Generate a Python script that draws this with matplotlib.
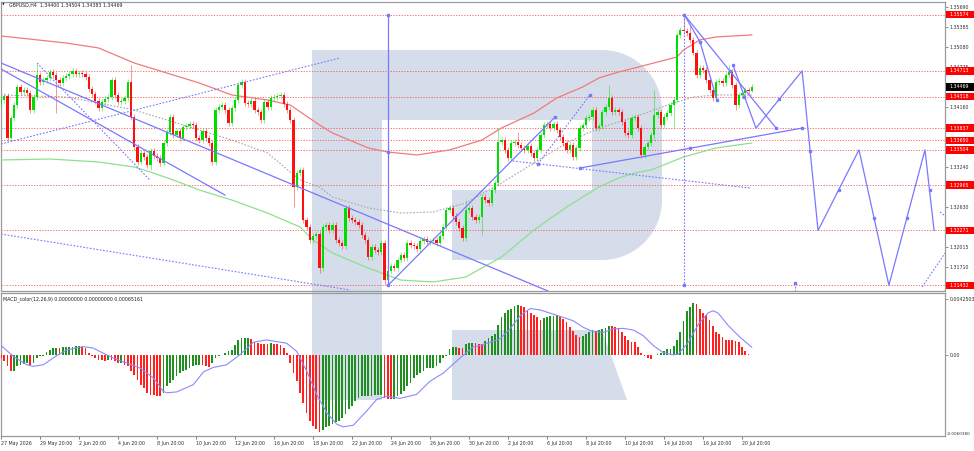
import matplotlib
matplotlib.use("Agg")
import matplotlib.pyplot as plt
import matplotlib.transforms as mtrans
from matplotlib.patches import Rectangle, Polygon
import numpy as np

plt.rcParams['font.family'] = ['DejaVu Sans']
FS = 3.4

# ---------------- data ----------------
close = [
 1.34267,1.34328,1.33686,1.33992,1.34190,1.34466,1.34389,1.34420,1.34374,1.34114,
 1.34313,1.34650,1.34543,1.34573,1.34604,1.34695,1.34650,1.34573,1.34527,1.34604,
 1.34634,1.34665,1.34711,1.34665,1.34680,1.34665,1.34619,1.34435,1.34359,1.34252,
 1.34145,1.34236,1.34282,1.34313,1.34573,1.34344,1.34236,1.34252,1.34298,1.34543,
 1.34007,1.33548,1.33319,1.33456,1.33395,1.33273,1.33487,1.33410,1.33380,1.33303,
 1.33609,1.33777,1.34007,1.33732,1.33793,1.33686,1.33854,1.33869,1.33900,1.33885,
 1.33686,1.33655,1.33793,1.33686,1.33609,1.33319,1.34114,1.34160,1.34190,1.34114,
 1.33915,1.34145,1.34267,1.34497,1.34543,1.34221,1.34206,1.34252,1.34114,1.34083,
 1.33961,1.34236,1.34160,1.34298,1.34313,1.34328,1.34344,1.34206,1.34114,1.33961,
 1.32936,1.33150,1.33196,1.32431,1.32324,1.32125,1.32186,1.32217,1.31696,1.32324,
 1.32355,1.32278,1.32355,1.32125,1.32079,1.32033,1.32615,1.32462,1.32431,1.32401,
 1.32355,1.32202,1.32125,1.31865,1.32018,1.31972,1.31941,1.32079,1.31513,1.31651,
 1.31727,1.31696,1.31819,1.31895,1.31849,1.32079,1.32048,1.32033,1.31987,1.32110,
 1.32140,1.32094,1.32110,1.32125,1.32079,1.32186,1.32324,1.32584,1.32615,1.32492,
 1.32401,1.32309,1.32156,1.32584,1.32615,1.32477,1.32431,1.32477,1.32783,1.32737,
 1.32691,1.32890,1.32997,1.33624,1.33655,1.33502,1.33380,1.33609,1.33624,1.33579,
 1.33533,1.33502,1.33563,1.33456,1.33380,1.33502,1.33732,1.33885,1.33900,1.33839,
 1.33900,1.33808,1.33701,1.33609,1.33502,1.33579,1.33395,1.33533,1.33839,1.33885,
 1.33992,1.34007,1.34114,1.33839,1.33869,1.34083,1.34160,1.34298,1.34083,1.34114,
 1.34083,1.33931,1.33762,1.33732,1.33992,1.34007,1.33839,1.33426,1.33548,1.33609,
 1.33732,1.34038,1.34083,1.33885,1.34007,1.34068,1.34190,1.34267,1.35262,1.35338,
 1.35323,1.35292,1.35185,1.34988,1.34650,1.34757,1.34726,1.34573,1.34420,1.34298,
 1.34543,1.34558,1.34527,1.34650,1.34695,1.34497,1.34190,1.34344,1.34374,1.34420,
 1.34400,1.34469]
first_open = 1.34206
high_marks = {11: 1.34833, 40: 1.34803, 143: 1.32737, 153: 1.33839, 159: 1.33777,
              187: 1.34497, 201: 1.34420, 210: 1.35574, 212: 1.35414, 224: 1.34803,
              231: 1.34504}
low_marks = {17: 1.34068, 46: 1.33196, 90: 1.32630, 98: 1.31620, 118: 1.31432,
             148: 1.32202, 201: 1.33655, 207: 1.33839, 226: 1.34114, 231: 1.34383}
wick = 0.0004

red_ma_x = [0,20,30,41,51,61,71,82,89,98,102,113,119,128,138,148,154,164,171,179,184,190,195,208,210,215,220,231]
red_ma_p = [1.35246,1.35139,1.35063,1.34833,1.34680,1.34527,1.34344,1.34267,1.34190,1.33885,
            1.33762,1.33533,1.33471,1.33426,1.33502,1.33655,1.33839,1.34068,1.34298,1.34466,
            1.34604,1.34695,1.34757,1.34925,1.35032,1.35185,1.35231,1.35262]
green_ma_x = [0,15,30,41,46,53,61,71,82,92,96,102,113,123,133,143,154,164,174,184,190,195,200,210,220,231]
green_ma_p = [1.33349,1.33364,1.33319,1.33242,1.33165,1.33043,1.32890,1.32737,1.32538,1.32324,
              1.32125,1.31926,1.31696,1.31513,1.31483,1.31559,1.31865,1.32278,1.32630,1.32936,
              1.33074,1.33150,1.33196,1.33395,1.33533,1.33609]
gray_ma_x = [0,20,30,41,51,61,71,82,92,98,102,113,123,133,143,154,164,174,184,190,195,205,213,220,231]
gray_ma_p = [1.34344,1.34313,1.34221,1.34114,1.33961,1.33808,1.33655,1.33456,1.33043,1.32936,
             1.32783,1.32615,1.32538,1.32553,1.32691,1.32997,1.33303,1.33609,1.33839,1.33931,
             1.34007,1.34190,1.34313,1.34344,1.34344]

level_prices = [1.35574, 1.34713, 1.34318, 1.33837, 1.33650, 1.33504, 1.32965, 1.32271, 1.31432]
level_labels = ['1.35574','1.34713','1.34318','1.33837','1.33650','1.33504','1.32965','1.32271','1.31432']
last_price = 1.34469
price_ticks = [1.35690, 1.35385, 1.35080, 1.34775, 1.34160, 1.33240, 1.32630, 1.32015, 1.31710]
price_tick_labels = ['1.35690','1.35385','1.35080','1.34775','1.34160','1.33240','1.32630','1.32015','1.31710']

time_tick_bars = [0,12,24,36,48,60,72,84,96,108,120,132,144,156,168,180,192,204,216,228]
time_tick_labels = ['27 May 2026','29 May 20:00','2 Jun 20:00','4 Jun 20:00','8 Jun 20:00',
                    '10 Jun 20:00','12 Jun 20:00','16 Jun 20:00','18 Jun 20:00','22 Jun 20:00',
                    '24 Jun 20:00','26 Jun 20:00','30 Jun 20:00','2 Jul 20:00','6 Jul 20:00',
                    '8 Jul 20:00','10 Jul 20:00','14 Jul 20:00','16 Jul 20:00','20 Jul 20:00']

macd_e4 = [
 -2.0,-4.5,-8.2,-11.9,-11.4,-8.2,-7.0,-6.5,-5.7,-7.0,
 -5.7,-2.0,-0.5,-0.2,2.5,4.2,5.5,5.7,5.5,6.0,
 6.2,6.5,6.7,6.8,6.9,6.7,5.5,1.7,-0.7,-2.0,
 -3.2,-3.5,-4.5,-3.2,-3.5,-4.5,-5.7,-5.5,-7.0,-8.2,
 -12.0,-15.0,-18.2,-21.9,-24.4,-28.1,-29.4,-29.8,-30.6,-30.8,
 -28.4,-23.1,-20.6,-18.2,-15.7,-13.2,-11.9,-10.7,-9.5,-8.2,
 -7.5,-7.3,-7.5,-8.2,-8.7,-5.7,-2.0,-0.2,0.5,2.2,
 3.0,4.2,7.9,11.7,12.9,13.0,13.4,12.2,10.5,9.2,
 8.5,8.4,8.3,9.2,9.0,8.8,7.9,5.5,1.7,-5.7,
 -13.2,-19.4,-28.1,-35.6,-43.0,-49.3,-53.0,-55.5,-57.7,-56.0,
 -54.2,-52.9,-51.7,-50.4,-49.2,-46.7,-44.2,-40.5,-38.0,-34.3,
 -31.8,-30.6,-30.4,-30.3,-30.2,-30.1,-30.0,-30.0,-31.8,-33.0,
 -33.1,-32.8,-30.6,-28.8,-26.9,-23.1,-20.6,-16.9,-14.4,-13.2,
 -11.4,-9.5,-9.4,-9.3,-8.2,-5.7,-2.0,-0.7,4.7,6.0,
 6.2,5.5,5.4,8.5,9.2,9.3,9.2,
 8.7,8.7,11.2,12.9,14.9,16.2,22.9,29.1,32.3,34.3,35.3,37.3,37.8,
 37.3,36.1,34.3,31.8,30.6,28.6,26.9,
 27.9,29.3,29.8,29.9,30.3,
 29.3,27.4,24.9,21.1,18.7,15.4,13.7,
 14.9,16.2,17.4,19.1,
 18.7,
 19.4,19.9,20.4,22.4,
 21.9,21.1,20.4,17.9,14.4,11.9,10.4,9.9,6.2,2.0,-0.5,-2.0,-2.5,
 0.5,1.0,2.0,3.0,4.5,4.6,7.0,12.0,17.4,26.1,33.6,36.8,39.3,
 38.5,34.8,31.8,30.3,26.9,22.4,17.4,16.2,13.7,11.9,11.7,11.5,11.2,9.9,6.2,3.7,1.2,0.5]
signal_x = [0,3.8,7.9,9.9,13,17.1,20.2,25.3,28.4,31.5,34.6,38.7,42.8,46.9,49.9,51,54.1,59.2,62.3,65.3,
            69.4,73.5,77.6,81.7,87.9,91,94.1,97.1,100.2,103.3,105.3,108.4,112.5,115.6,118.7,122.8,
            127.9,132,136.1,141.2,145.3,147.4,150.5,153.5,156.6,159.7,162.8,165.8,169.9,173,176.1,
            179.2,182.2,185.3,188.4,191.5,194.6,197.6,200.7,203.8,206.9,208.4,211.5,214.6,217.7,
            219.2,220.7,223.8,227.4,231]
signal_e4 = [7.5,-0.7,-7.0,-8.2,-7.0,-0.2,4.2,6.7,5.5,1.7,-2.0,-5.7,-9.5,-16.9,-26.9,-28.1,-27.4,-21.9,
             -12.4,-9.0,-7.0,0.5,9.9,11.7,9.2,3.0,-11.9,-29.3,-43.0,-51.7,-53.7,-52.5,-41.8,-33.1,
             -30.6,-32.3,-29.3,-19.4,-13.2,-2.0,6.5,7.5,9.9,12.4,19.9,29.8,35.3,34.3,31.1,28.6,26.1,
             21.1,17.9,17.4,19.9,20.4,19.1,14.9,7.5,2.0,0.5,1.0,9.9,23.6,32.3,33.6,31.8,22.4,13.7,6.2]

# analyst drawings (bar index, price)
blue_solid = [
    [(0, 1.34833), (168.3, 1.31345)],
    [(0, 1.34741), (68.9, 1.32813)],
    [(119.1, 1.35574), (119.1, 1.31432)],
    [(119.1, 1.31432), (170.5, 1.34007)],
    [(178.2, 1.33227), (246.5, 1.33837)],
    [(210.2, 1.35574), (238.5, 1.33837)],
    [(210.2, 1.35574), (215.1, 1.35154), (220.3, 1.34267)],
    [(225.2, 1.34803), (232.3, 1.33837), (246.5, 1.34713), (251.4, 1.32271),
     (264.0, 1.33504), (273.2, 1.31432), (284.3, 1.33504), (287.1, 1.32271)],
]
blue_dotted = [
    [(11.1, 1.34833), (45.8, 1.33043)],
    [(0, 1.33594), (104.3, 1.34910)],
    [(0, 1.32217), (107.4, 1.31360)],
    [(165.2, 1.33288), (181.2, 1.34344)],
    [(157.5, 1.33334), (230.5, 1.32920)],
    [(210.2, 1.35574), (210.2, 1.31432)],
    [(244.3, 1.31467), (244.3, 1.31345)],
    [(283.4, 1.31406), (290.5, 1.31926)],
    [(288.9, 1.32553), (290.5, 1.32492)],
]
blue_markers = [(119.1, 1.35574), (119.1, 1.33471), (119.1, 1.31432), (170.5, 1.34007),
                (178.2, 1.33227), (212.0, 1.33530), (246.5, 1.33837), (165.2, 1.33288),
                (181.2, 1.34344), (210.2, 1.35574), (210.2, 1.31432), (224.4, 1.34711),
                (215.1, 1.35154), (220.3, 1.34267), (225.2, 1.34803), (228.7, 1.34320),
                (238.5, 1.33837), (239.4, 1.34275), (248.9, 1.33492), (257.7, 1.32888),
                (268.6, 1.32468), (278.8, 1.32468), (285.7, 1.32888), (244.3, 1.31467)]

# ---------------- figure ----------------
fig = plt.figure(figsize=(9.74, 4.51), dpi=100)
W, H = 974, 451

bg = fig.add_axes([0, 0, 1, 1])
bg.set_xlim(0, W); bg.set_ylim(H, 0); bg.axis('off'); bg.set_zorder(0)
wm = '#d4dde9'
# watermark "R"
th1 = np.linspace(np.pi/2, 0, 20)
arc1 = [(602 + 60*np.cos(t), 110 - 60*np.sin(t)) for t in th1]
th2 = np.linspace(0, -np.pi/2, 20)
arc2 = [(602 + 60*np.cos(t), 200 - 60*np.sin(t)) for t in th2]
rpts = [(312, 50)] + arc1 + arc2 + [(452, 260), (452, 190), (592, 190), (592, 120),
        (382, 120), (382, 400), (312, 400)]
bg.add_patch(Polygon(rpts, closed=True, fc=wm, ec='none'))
bg.add_patch(Polygon([(452, 330), (602, 330), (627, 400), (452, 400)], closed=True, fc=wm, ec='none'))

bg.text(2, 5, '\u25bc', fontsize=2.6, color='#202020', va='center', ha='left')
bg.text(9, 5, 'GBPUSD,H4  1.34400 1.34504 1.34383 1.34469', fontsize=FS, color='#202020',
        va='center', ha='left')
bg.text(3, 299, 'MACD_color(12,26,9) 0.00000000 0.00000000 0.00065161', fontsize=FS,
        color='#202020', va='center', ha='left')

XMAX = 944 / 3.25
ax = fig.add_axes([1/W, (H-291)/H, 944/W, 289/H])
ax.set_zorder(1); ax.patch.set_alpha(0)
ax.set_xlim(0, XMAX)
ax.set_ylim(1.31345, 1.35766)
mx = fig.add_axes([1/W, (H-436)/H, 944/W, 143/H])
mx.set_zorder(1); mx.patch.set_alpha(0)
mx.set_xlim(0, XMAX)
mx.set_ylim(-0.00606, 0.0047)

for a in (ax, mx):
    for s in a.spines.values():
        s.set_color('#9a9a9a'); s.set_linewidth(0.9)

# levels
for p in level_prices:
    ax.axhline(p, color='#ff4a4a', lw=0.7, ls=(0, (1.2, 1.6)), alpha=0.85, zorder=2)

# moving averages
ax.plot(red_ma_x, red_ma_p, color='#f27a7a', lw=0.9, zorder=3)
ax.plot(green_ma_x, green_ma_p, color='#8ee08e', lw=0.9, zorder=3)
ax.plot(gray_ma_x, gray_ma_p, color='#a8a8a8', lw=0.8, ls=(0, (1.5, 1.5)), zorder=3)

# candles
n = len(close)
opens = [first_open] + close[:-1]
for i in range(n):
    o, c = opens[i], close[i]
    hi = high_marks.get(i, max(o, c) + wick)
    lo = low_marks.get(i, min(o, c) - wick)
    col = '#00dd00' if c >= o else '#ff1010'
    ax.vlines(i, lo, hi, color=col, lw=0.7, alpha=0.45, zorder=4)
    h = abs(c - o)
    if h < 0.00005:
        h = 0.00005
    ax.add_patch(Rectangle((i - 0.32, min(o, c)), 0.64, h, fc=col, ec='none', zorder=5))

# drawings
bl = '#7878ff'
for seg in blue_solid:
    xs, ys = zip(*seg)
    ax.plot(xs, ys, color=bl, lw=0.9, zorder=6, clip_on=True)
for seg in blue_dotted:
    xs, ys = zip(*seg)
    ax.plot(xs, ys, color=bl, lw=0.8, ls=(0, (1.5, 1.5)), zorder=6)
mxs, mys = zip(*blue_markers)
ax.plot(mxs, mys, 's', color=bl, ms=1.6, zorder=7, clip_on=False)

# right price axis
ax.yaxis.tick_right()
ax.set_yticks(price_ticks)
ax.set_yticklabels(price_tick_labels)
ax.tick_params(axis='y', labelsize=FS, length=2, width=0.6, color='#808080', pad=1.5,
               labelcolor='#303030')
ax.set_xticks([])
bt = mtrans.blended_transform_factory(ax.transAxes, ax.transData)
bh = 7.6 * 0.000153
for p, lab in zip(level_prices, level_labels):
    ax.add_patch(Rectangle((1.0012, p - bh/2), 0.0305, bh, transform=bt, fc='#ff0000', ec='none',
                           clip_on=False, zorder=8))
    ax.text(1.0045, p, lab, transform=bt, fontsize=FS, color='white', va='center', ha='left',
            clip_on=False, zorder=9)
ax.add_patch(Rectangle((1.0012, last_price - bh/2), 0.0305, bh, transform=bt, fc='#000000',
                       ec='none', clip_on=False, zorder=8))
ax.text(1.0045, last_price, '1.34469', transform=bt, fontsize=FS, color='white', va='center',
        ha='left', clip_on=False, zorder=9)

# MACD
vals = [v * 1e-4 for v in macd_e4]
cols = []
prev_col = '#ff2020'
for i, v in enumerate(vals):
    if i > 0 and v > vals[i-1]:
        prev_col = '#1f8f1f'
    elif i > 0 and v < vals[i-1]:
        prev_col = '#ff2020'
    cols.append(prev_col)
mx.bar(range(len(vals)), vals, width=0.55, color=cols, zorder=3)
mx.plot(signal_x, [v * 1e-4 for v in signal_e4], color='#8a8aff', lw=0.8, zorder=4)
mx.yaxis.tick_right()
mx.set_yticks([0.0042503, 0.0])
mx.set_yticklabels(['0.0042503', '0.00'])
mx.tick_params(axis='y', labelsize=FS, length=2, width=0.6, color='#808080', pad=1.5,
               labelcolor='#303030')
mxt = mtrans.blended_transform_factory(mx.transAxes, mx.transData)
mx.text(1.002, -0.0059, '-0.0060380', transform=mxt, fontsize=3.0, color='#303030',
        va='center', ha='left', clip_on=False)
mx.set_xticks(time_tick_bars)
mx.set_xticklabels(time_tick_labels)
mx.tick_params(axis='x', labelsize=FS, length=2.5, width=0.6, color='#606060', pad=1.2,
               labelcolor='#303030')
for t in mx.get_xticklabels():
    t.set_horizontalalignment('left')

fig.savefig('out.png', dpi=100)
